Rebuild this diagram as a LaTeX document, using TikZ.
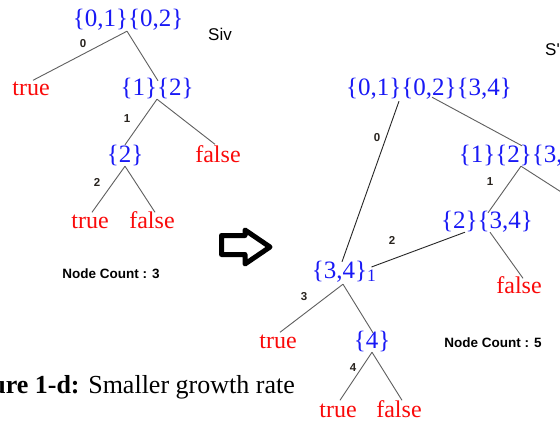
\documentclass[tikz,border=0pt]{standalone}
\usepackage{fontspec}
\setmainfont{Liberation Serif}
\newfontfamily\arialfont{Liberation Sans}
\usepackage{tikz}
\usetikzlibrary{positioning, calc}
\definecolor{setblue}{RGB}{25,25,245}
\definecolor{leafred}{RGB}{250,10,10}
\definecolor{edgegray}{RGB}{95,95,95}
\definecolor{numdark}{RGB}{40,35,30}

\begin{document}
\begin{tikzpicture}[x=1pt, y=-1pt,
    setnode/.style={text=setblue, font=\fontsize{25}{25}\selectfont, inner sep=4pt, text height=1em, text depth=0pt},
    leafnode/.style={text=leafred, font=\fontsize{24}{24}\selectfont, inner sep=4.5pt, text height=1em, text depth=0pt},
    edgelbl/.style={text=numdark, font=\arialfont\bfseries\fontsize{11.5}{11.5}\selectfont, inner sep=0pt},
    countlbl/.style={text=black, font=\arialfont\bfseries\fontsize{13.5}{13.5}\selectfont, inner sep=0pt},
    branch/.style={edgegray, line width=0.9pt},
    darkbranch/.style={black!85, line width=0.9pt}]
    \useasboundingbox (0,0) rectangle (560,423);
    \clip (0,0) rectangle (560,423);
    \fill[white] (0,0) rectangle (560,423);

    % left tree (Siv)
    \node[setnode] (lroot) at (128,22) {\{0,1\}\{0,2\}};
    \node[text=black, font=\arialfont\fontsize{17}{17}\selectfont, inner sep=0pt] (siv) at (220,34) {Siv};
    \node[leafnode] (ltrue0) at (31,90) {true};
    \node[setnode] (lone) at (157,90) {\{1\}\{2\}};
    \node[setnode] (ltwo) at (125,157) {\{2\}};
    \node[leafnode] (lfalse1) at (218,157) {false};
    \node[leafnode] (ltrue2) at (90,223) {true};
    \node[leafnode] (lfalse2) at (152,223) {false};

    \draw[branch] ([xshift=-1pt]lroot.south) -- ([xshift=2pt]ltrue0.north);
    \draw[branch] ([xshift=-1pt]lroot.south) -- ([xshift=1pt]lone.north);
    \draw[branch] (lone.south) -- ([yshift=3pt]ltwo.north);
    \draw[branch] (lone.south) -- ([xshift=-3pt,yshift=3pt]lfalse1.north);
    \draw[branch] (ltwo.south) -- ([xshift=2pt,yshift=1pt]ltrue2.north);
    \draw[branch] (ltwo.south) -- ([xshift=3pt,yshift=1pt]lfalse2.north);

    \node[edgelbl] (le0) at (83,44) {0};
    \node[edgelbl] (le1) at (127,119) {1};
    \node[edgelbl] (le2) at (97,182) {2};
    \node[countlbl] (lcount) at (111,274) {Node Count : 3};

    % arrow between the trees
    \draw[black, line width=5pt, line join=round]
        (221.5,235.5) -- (245,235.5) -- (245,230) -- (270,247)
        -- (245,264) -- (245,254.5) -- (221.5,254.5) -- cycle;

    % right tree (S')
    \node[text=black, font=\arialfont\fontsize{17}{17}\selectfont, inner sep=0pt, anchor=west] (sprime) at (545,50) {S'};
    \node[setnode] (rroot) at (429,90) {\{0,1\}\{0,2\}\{3,4\}};
    \node[setnode] (rone) at (523,157) {\{1\}\{2\}\{3,4\}};
    \coordinate (rcut) at (583,206);
    \node[setnode] (rtwo) at (487,223) {\{2\}\{3,4\}};
    \node[leafnode] (rfalse2) at (519,288) {false};
    \node[setnode] (rthree) at (344,273) {\{3,4\}\textsubscript{1}};
    \node[leafnode] (rtrue3) at (278,343) {true};
    \node[setnode] (rfour) at (372,343) {\{4\}};
    \node[leafnode] (rtrue4) at (338,412) {true};
    \node[leafnode] (rfalse4) at (399,412) {false};

    \draw[darkbranch] ([xshift=-30pt,yshift=-2pt]rroot.south) -- ([xshift=-2pt,yshift=2pt]rthree.north);
    \draw[branch] ([xshift=3pt,yshift=2pt]rroot.south) -- ([xshift=-1pt,yshift=2pt]rone.north);
    \draw[branch] ([xshift=-2pt]rone.south) -- ([xshift=1pt,yshift=1pt]rtwo.north);
    \draw[branch] ([xshift=-2pt]rone.south) -- (rcut);
    \draw[darkbranch] ([xshift=-22pt]rtwo.south) -- ([xshift=-9pt,yshift=6pt]rthree.east);
    \draw[branch] ([xshift=3pt]rtwo.south) -- ([xshift=4pt]rfalse2.north);
    \draw[branch] ([xshift=-1pt,yshift=-2pt]rthree.south) -- ([xshift=2pt,yshift=1pt]rtrue3.north);
    \draw[branch] ([xshift=-1pt,yshift=-2pt]rthree.south) -- ([xshift=1pt,yshift=1pt]rfour.north);
    \draw[branch] (rfour.south) -- ([xshift=2pt,yshift=2pt]rtrue4.north);
    \draw[branch] (rfour.south) -- ([xshift=3pt,yshift=2pt]rfalse4.north);

    \node[edgelbl] (re0) at (377,138) {0};
    \node[edgelbl] (re1) at (490,182) {1};
    \node[edgelbl] (re2) at (392,240) {2};
    \node[edgelbl] (re3) at (304,297) {3};
    \node[edgelbl] (re4) at (353,368) {4};
    \node[countlbl] (rcount) at (493,343) {Node Count : 5};

    % caption, cut at the left edge
    \node[text=black, font=\fontsize{26}{26}\selectfont, inner sep=0pt, anchor=east] (caption) at (295,387)
        {\textbf{Figure 1-d:} Smaller growth rate};
\end{tikzpicture}
\end{document}
